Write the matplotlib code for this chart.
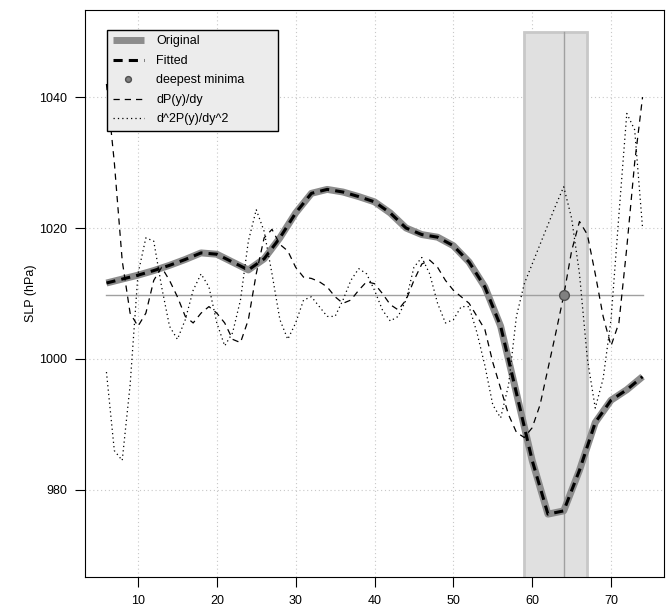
import numpy as np
import matplotlib.pyplot as plt
from matplotlib.patches import Rectangle

plt.rcParams['font.family'] = ['Liberation Sans', 'DejaVu Sans']

# кривая давления (шаг 2)
lat = [6, 8, 10, 12, 14, 16, 18, 20, 22, 24, 26, 28, 30, 32, 34, 36, 38, 40,
       42, 44, 46, 48, 50, 52, 54, 56, 58, 60, 62, 64, 66, 68, 70, 72, 74]
slp = [1011.6, 1012.2, 1012.8, 1013.5, 1014.3, 1015.2, 1016.2, 1016.0, 1014.8,
       1013.6, 1015.3, 1018.5, 1022.3, 1025.3, 1025.9, 1025.5, 1024.8, 1024.0,
       1022.3, 1020.0, 1019.0, 1018.6, 1017.3, 1014.8, 1011.0, 1005.0, 994.8,
       984.5, 976.3, 976.8, 983.0, 990.3, 993.7, 995.3, 997.3]

# производные (шаг 1), уже масштабированные к оси SLP
lat_d = list(range(6, 75))
dP = [1042, 1030, 1015, 1007, 1005, 1007, 1012, 1014, 1012, 1009.5, 1006.5,
      1005.5, 1007, 1008, 1007, 1005.5, 1003, 1002.5, 1006, 1013, 1018.5,
      1019.8, 1017.5, 1016.5, 1014, 1012.5, 1012.3, 1011.8, 1011, 1009.5,
      1008.5, 1009, 1010.5, 1011.8, 1011.5, 1010, 1008.3, 1007.5, 1009, 1012,
      1014.5, 1015.1, 1014, 1012, 1010.5, 1009.5, 1008.5, 1006.5, 1004.5,
      999.5, 995.5, 991.5, 988.8, 988, 989.5, 993, 998.5, 1004, 1009.7,
      1016.5, 1021, 1019, 1013, 1006.5, 1002, 1005.5, 1017, 1030, 1040]
d2P = [998, 986, 984.5, 996, 1013, 1018.5, 1018, 1011, 1005, 1003, 1006,
       1010.5, 1013, 1011, 1005.5, 1002, 1004, 1009, 1018, 1022.8, 1019.5,
       1013, 1006, 1003, 1005.5, 1009, 1009.5, 1008, 1006.5, 1006.5, 1009,
       1012, 1013.8, 1013, 1010.5, 1007.5, 1005.8, 1006.5, 1009, 1014, 1015.5,
       1013, 1008.5, 1005.5, 1006, 1008, 1008, 1004, 999, 993, 991, 996, 1006.5,
       1011.5, 1014.5, 1017.5, 1020.5, 1023.5, 1026.3, 1021.5, 1013, 1000,
       992.5, 997, 1006, 1022, 1037.5, 1035, 1020]

# самый глубокий минимум и окно вокруг него
min_lat = 64
min_lev = 1009.7
win = [59, 67]
win_top = 1050

fig = plt.figure(figsize=(6.66, 6.10), dpi=100)
ax = fig.add_axes([85/666, 33/610, 579/666, 567/610])
ax.set_xlim(3.28, 76.72)
ax.set_ylim(966.7, 1053.3)

# сетка
for xv in [10, 20, 30, 40, 50, 60, 70]:
    ax.axvline(xv, color='#c8c8c8', lw=0.8, ls=(0, (1, 2.5)), zorder=0)
for yv in [980, 1000, 1020, 1040]:
    ax.axhline(yv, color='#c8c8c8', lw=0.8, ls=(0, (1, 2.5)), zorder=0)

# окно
ax.add_patch(Rectangle((win[0], 960), win[1] - win[0], win_top - 960,
                       facecolor='#e0e0e0', edgecolor='#c8c8c8', lw=2, zorder=1))
ax.plot([min_lat, min_lat], [960, win_top], color='#a0a0a0', lw=1, zorder=2)
ax.plot([lat[0], lat[-1]], [min_lev, min_lev], color='#a0a0a0', lw=1, zorder=2)

ax.plot(lat, slp, color='#8c8c8c', lw=5, solid_capstyle='butt', label='Original', zorder=3)
ax.plot(lat, slp, color='black', lw=2.2, ls=(0, (3, 2)), label='Fitted', zorder=4)
ax.plot(min_lat, min_lev, 'o', color='#808080', mec='#505050', ms=7, label='deepest minima', zorder=6)
ax.plot(lat_d, dP, color='black', lw=0.9, ls=(0, (5, 4)), label='dP(y)/dy', zorder=5)
ax.plot(lat_d, d2P, color='black', lw=0.9, ls=(0, (1, 2.5)), label='d^2P(y)/dy^2', zorder=5)

ax.set_xticks([10, 20, 30, 40, 50, 60, 70])
ax.set_yticks([980, 1000, 1020, 1040])
ax.tick_params(direction='out', length=7, width=0.8, labelsize=9, pad=6)
ax.set_ylabel('SLP (hPa)', fontsize=9)
ax.yaxis.set_label_coords(-0.083, 0.5)

leg = ax.legend(loc='upper left', bbox_to_anchor=(0.038, 0.965, 0.295, 0), mode='expand',
                borderaxespad=0, fancybox=False, edgecolor='black', facecolor='#ececec',
                framealpha=1, fontsize=9, handlelength=2.5, handletextpad=1.0,
                labelspacing=0.6, borderpad=0.45, markerscale=0.6)
leg.get_frame().set_linewidth(1)
leg.set_zorder(10)

fig.savefig('out.png', dpi=100)
